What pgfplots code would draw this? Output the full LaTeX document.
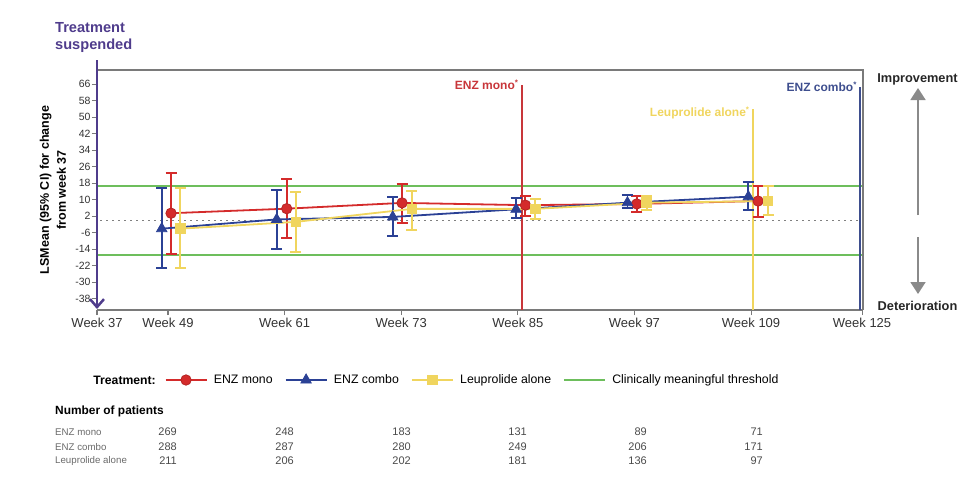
\documentclass[border=0pt]{standalone}
\usepackage{pgfplots}
\pgfplotsset{compat=1.18}
\usepackage{pgfplotstable}
\usepackage{fontspec}
\setmainfont{Liberation Sans}
\usetikzlibrary{arrows.meta,calc}

\definecolor{monoRed}{HTML}{D42B2B}
\definecolor{monoLine}{HTML}{C8363A}
\definecolor{comboBlue}{HTML}{2B4195}
\definecolor{comboLine}{HTML}{3E4E8E}
\definecolor{leuYellow}{HTML}{F0D55E}
\definecolor{threshGreen}{HTML}{6DBE5C}
\definecolor{suspPurple}{HTML}{4F3C8C}
\definecolor{frameGray}{HTML}{7A7A7A}
\definecolor{arrowGray}{HTML}{8A8A8A}
\definecolor{tableGray}{HTML}{4A4A4A}
\definecolor{labelGray}{HTML}{6A6A6A}

\newcommand{\fs}[1]{\fontsize{#1}{#1}\selectfont}

% LS mean change from week 37 with 95% CI (lo, hi); x = visit slot with a small dodge
\pgfplotstableread{
x      y     lo     hi
1.026  3.5  -16.2  22.9
2.018  5.7   -8.6  20.1
3.007  8.5   -1.1  17.8
4.065  7.4    2.2  11.9
5.020  8.0    4.3  11.9
6.060  9.4    1.8  16.7
}\mono
\pgfplotstableread{
x      y     lo     hi
0.946 -4.0  -22.9  15.9
1.932  0.5  -14.0  14.8
2.927  1.7   -7.4  11.5
3.985  5.4    1.4  11.0
4.940  8.6    6.2  12.4
5.977 11.5    5.1  18.8
}\combo
\pgfplotstableread{
x      y     lo     hi
1.105 -4.0  -22.9  15.7
2.095 -0.7  -15.1  13.7
3.090  5.6   -4.6  14.4
4.150  5.6    0.9  10.3
5.105  8.6    5.1  11.9
6.146  9.4    2.7  16.7
}\leup

\begin{document}
\begin{tikzpicture}[x=1pt,y=1pt]
\begin{axis}[
  scale only axis, width=766pt, height=240pt,
  xmin=0.391, xmax=6.96, ymin=-43.4, ymax=72.9,
  axis x line*=bottom, axis y line*=left,
  x axis line style={frameGray, line width=1.5pt, -},
  y axis line style={draw=none},
  xtick={0.391,1,2,3,4,5,6,6.952},
  xticklabels={Week 37,Week 49,Week 61,Week 73,Week 85,Week 97,Week 109,Week 125},
  ytick={-38,-30,-22,-14,-6,2,10,18,26,34,42,50,58,66},
  yticklabels={-38,-30,-22,-14,-6,2,10,18,26,34,42,50,58,66},
  tick align=outside, major tick length=5pt,
  tick style={frameGray, line width=1.1pt},
  x tick label style={font=\fs{13}, text=black!80},
  y tick label style={font=\fs{10.5}, text=black!80, xshift=2pt},
  clip=false,
  legend columns=4,
  legend style={at={(rel axis cs:0.088,-0.2917)}, anchor=west, draw=none, fill=none,
    font=\fs{12.3}, inner sep=0pt,
    /tikz/every odd column/.append style={column sep=4.5pt},
    /tikz/every even column/.append style={column sep=10pt}},
  legend image code/.code={\draw[mark repeat=2,mark phase=2,#1] plot coordinates {(0pt,0pt) (20.5pt,0pt) (41pt,0pt)};},
  error bars/y dir=both, error bars/y explicit,
]
% clinically meaningful thresholds
\addplot[threshGreen, line width=1.6pt, forget plot] coordinates {(0.391,16.7) (6.96,16.7)};
\addplot[threshGreen, line width=1.6pt, forget plot] coordinates {(0.391,-16.7) (6.96,-16.7)};
% zero reference
\addplot[gray, line width=1.2pt, dash pattern=on 1.4pt off 4.6pt, forget plot] coordinates {(0.42,0) (6.93,0)};
% last visit per arm
\addplot[monoLine, line width=1.8pt, forget plot] coordinates {(4.033,-43.4) (4.033,65.6)};
\addplot[leuYellow, line width=1.8pt, forget plot] coordinates {(6.015,-43.4) (6.015,53.9)};
\addplot[comboLine, line width=1.8pt, forget plot] coordinates {(6.935,-43.4) (6.935,64.8)};

\addplot[monoRed, line width=1.8pt, mark=*, mark size=5.2pt, mark options={fill=monoRed, draw=monoRed!85!black, line width=0.8pt, solid},
  error bars/error bar style={line width=1.9pt, monoRed},
  error bars/error mark options={rotate=90, mark size=5.5pt, line width=1.9pt, monoRed}]
  table[x=x, y=y, y error plus expr=\thisrow{hi}-\thisrow{y}, y error minus expr=\thisrow{y}-\thisrow{lo}] {\mono};
\addlegendentry{ENZ mono}
\addplot[comboBlue, line width=1.8pt, mark=triangle*, mark size=6pt, mark options={fill=comboBlue, line width=0.8pt, solid},
  error bars/error bar style={line width=1.9pt, comboBlue},
  error bars/error mark options={rotate=90, mark size=5.5pt, line width=1.9pt, comboBlue}]
  table[x=x, y=y, y error plus expr=\thisrow{hi}-\thisrow{y}, y error minus expr=\thisrow{y}-\thisrow{lo}] {\combo};
\addlegendentry{ENZ combo}
\addplot[leuYellow, line width=1.8pt, mark=square*, mark size=4.8pt, mark options={fill=leuYellow, line width=0.8pt, solid},
  error bars/error bar style={line width=1.9pt, leuYellow},
  error bars/error mark options={rotate=90, mark size=5.5pt, line width=1.9pt, leuYellow}]
  table[x=x, y=y, y error plus expr=\thisrow{hi}-\thisrow{y}, y error minus expr=\thisrow{y}-\thisrow{lo}] {\leup};
\addlegendentry{Leuprolide alone}
\addlegendimage{threshGreen, line width=1.6pt}
\addlegendentry{Clinically meaningful threshold}

% frame
\draw[frameGray, line width=1.5pt] (rel axis cs:0,1) -- (rel axis cs:1,1) -- (rel axis cs:1,0);
\coordinate (O) at (rel axis cs:0,0);

\node[anchor=east, inner sep=0pt, xshift=-3pt, text=monoLine, font=\bfseries\fs{12}] at (axis cs:4.033,65.6) {ENZ mono\textsuperscript{*}};
\node[anchor=east, inner sep=0pt, xshift=-3pt, text=leuYellow, font=\bfseries\fs{12}] at (axis cs:6.015,52) {Leuprolide alone\textsuperscript{*}};
\node[anchor=east, inner sep=0pt, xshift=-3pt, text=comboLine, font=\bfseries\fs{12}] at (axis cs:6.935,64.8) {ENZ combo\textsuperscript{*}};
\end{axis}

\begin{scope}[shift={($(O)+(-97pt,-178pt)$)}]
% treatment-suspended axis
\draw[suspPurple, line width=2.5pt, -{Straight Barb[length=8pt,width=14pt]}] (97,428) -- (97,179);
\node[anchor=west, inner sep=0pt, text=suspPurple, font=\bfseries\fs{14.6}] at (55,460) {Treatment};
\node[anchor=west, inner sep=0pt, text=suspPurple, font=\bfseries\fs{14.6}] at (55,442) {suspended};

% y label
\node[rotate=90, inner sep=0pt, align=center, font=\bfseries\fontsize{12.5}{17}\selectfont] at (53,298) {LSMean (95\% CI) for change\\from week 37};

% direction arrows
\node[inner sep=0pt, font=\bfseries\fs{12.8}, text=black!85] at (917.5,409) {Improvement};
\node[inner sep=0pt, font=\bfseries\fs{12.8}, text=black!85] at (917.5,182) {Deterioration};
\draw[arrowGray, line width=1.8pt, -{Triangle[length=12pt,width=15pt]}] (918,273) -- (918,400);
\draw[arrowGray, line width=1.8pt, -{Triangle[length=12pt,width=15pt]}] (918,251) -- (918,194);

% legend title
\node[anchor=east, inner sep=0pt, font=\bfseries\fs{12.2}] at (156,108) {Treatment:};

% patient numbers
\node[anchor=west, inner sep=0pt, font=\bfseries\fs{11.9}] at (55,77) {Number of patients};
\foreach \lab/\yy in {ENZ mono/56, ENZ combo/41, Leuprolide alone/27}
  \node[anchor=west, inner sep=0pt, text=labelGray, font=\fs{9.7}] at (55,\yy) {\lab};
\foreach \xx/\a/\b/\c in {177/269/288/211, 294/248/287/206, 411/183/280/202, 527/131/249/181, 647/89/206/136, 763/71/171/97}{
  \node[anchor=east, inner sep=0pt, text=tableGray, font=\fs{11}] at (\xx,56) {\a};
  \node[anchor=east, inner sep=0pt, text=tableGray, font=\fs{11}] at (\xx,41) {\b};
  \node[anchor=east, inner sep=0pt, text=tableGray, font=\fs{11}] at (\xx,27) {\c};
}

\pgfresetboundingbox
\path[use as bounding box] (0,0) rectangle (976,488);
\end{scope}
\end{tikzpicture}
\end{document}
